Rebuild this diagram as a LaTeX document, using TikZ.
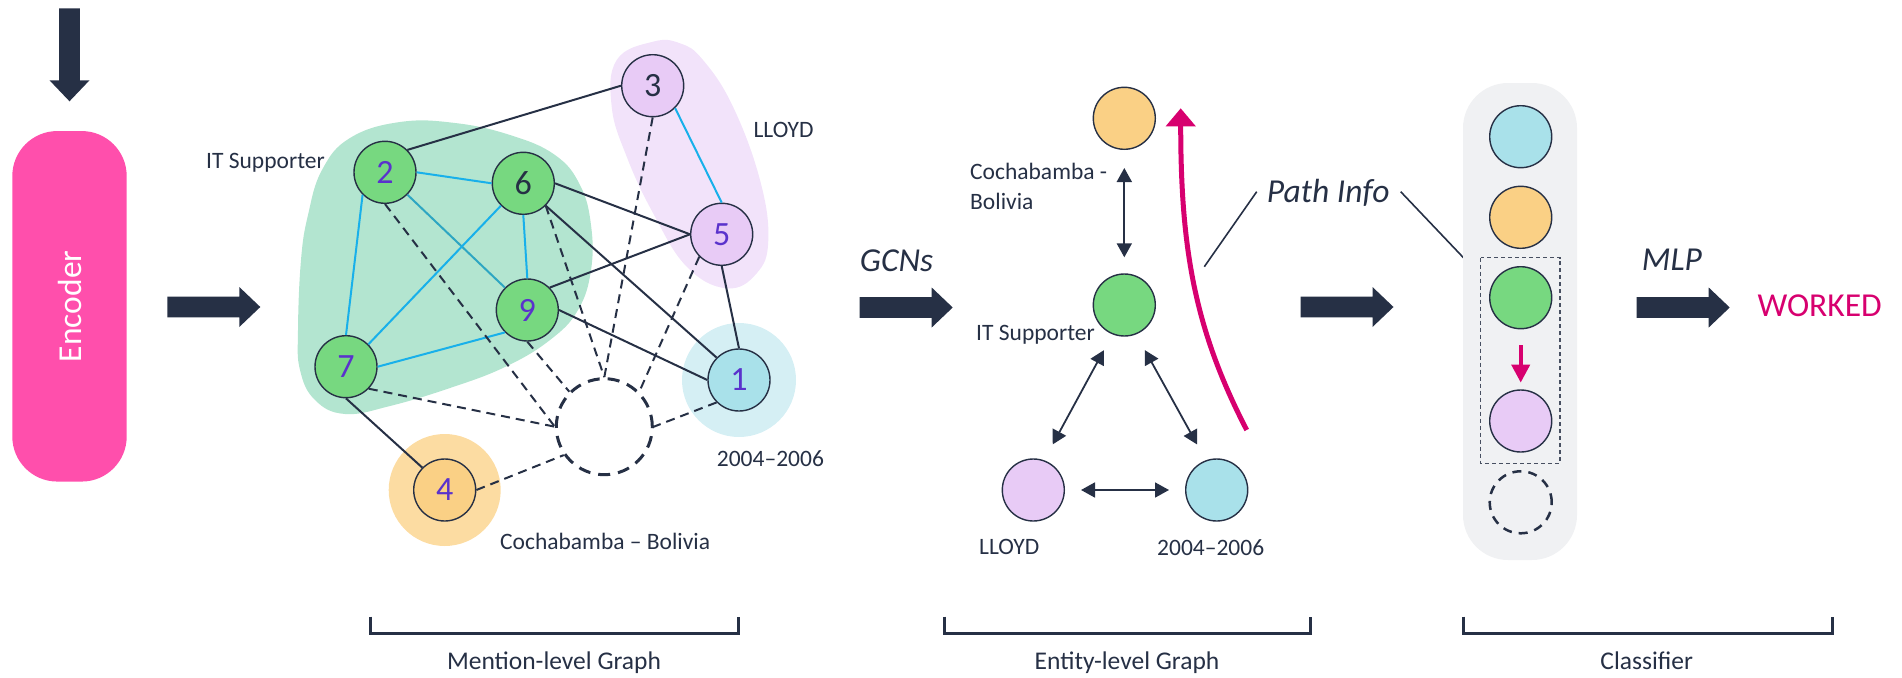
\documentclass[tikz,border=0pt]{standalone}
\usepackage{fontspec}
\setmainfont{Carlito}
\usetikzlibrary{arrows.meta,backgrounds}
\definecolor{navy}{HTML}{263045}
\definecolor{numpurple}{HTML}{5A32CC}
\definecolor{ngreen}{HTML}{77D880}
\definecolor{nlav}{HTML}{E8CBF6}
\definecolor{ncyan}{HTML}{A9E1EA}
\definecolor{norange}{HTML}{FAD085}
\definecolor{blobgreen}{HTML}{B3E5D0}
\definecolor{blobpurple}{HTML}{F2E3FA}
\definecolor{halocyan}{HTML}{D5EFF4}
\definecolor{haloorange}{HTML}{FCDCA2}
\definecolor{encpink}{HTML}{FF4FAC}
\definecolor{mag}{HTML}{D7006F}
\definecolor{clsbg}{HTML}{F0F1F3}
\definecolor{ecyan}{HTML}{18B0EA}
\definecolor{eteal}{HTML}{2EA6C2}
\tikzset{
  bigarr/.pic={\fill[navy] (0,-10.3) -- (72,-10.3) -- (72,-20) -- (93,0) -- (72,20) -- (72,10.3) -- (0,10.3) -- cycle;},
  mn/.style={circle, draw=navy, line width=1.4pt, minimum size=62pt, inner sep=0pt,
    font=\fontsize{34}{34}\selectfont, text=numpurple},
  dk/.style={text=navy},
  en/.style={circle, draw=navy, line width=1.4pt, minimum size=62pt, inner sep=0pt},
  dcirc/.style={circle, draw=navy, inner sep=0pt},
  edge/.style={draw=navy, line width=2pt},
  cedge/.style={draw=ecyan, line width=2pt},
  dedge/.style={draw=navy, line width=2pt, dash pattern=on 9pt off 6pt},
  lbl/.style={text=navy, inner sep=0pt, font=\fontsize{23.5}{30}\selectfont},
  capt/.style={text=navy, inner sep=0pt, font=\fontsize{25.5}{30}\selectfont},
  big/.style={inner sep=0pt, font=\fontsize{33.5}{36}\selectfont},
  dbl/.style={{Triangle[length=14pt,width=15pt]}-{Triangle[length=14pt,width=15pt]}, draw=navy, line width=1.8pt},
  brk/.style={draw=navy, line width=3pt},
  encoder/.style={rectangle, rounded corners=45pt, fill=encpink, rotate=90,
    minimum width=350.5pt, minimum height=114.4pt, inner sep=0pt, text=white,
    font=\fontsize{33.5}{36}\selectfont},
}
\begin{document}
\begin{tikzpicture}[x=1pt,y=-1pt]
\useasboundingbox (0,0) rectangle (1902,677);

% ---------- encoder ----------
\pic[rotate=-90] at (69.5,8.3) {bigarr};
\node[encoder] (enc) at (69.5,306.3) {Encoder};
\pic at (167.3,307) {bigarr};

% ---------- mention-level graph ----------
\node[mn, fill=ngreen] (m2) at (385,172.3) {2};
\node[mn, fill=ngreen, dk] (m6) at (523.3,183.3) {6};
\node[mn, fill=ngreen] (m9) at (527.3,310) {9};
\node[mn, fill=ngreen] (m7) at (346,366.7) {7};
\node[mn, fill=nlav, dk] (m3) at (652.7,85.7) {3};
\node[mn, fill=nlav] (m5) at (721.7,234.3) {5};
\node[mn, fill=ncyan] (m1) at (739,380) {1};
\node[mn, fill=norange] (m4) at (444.7,490) {4};
\node[dcirc, minimum size=96pt, line width=3pt, dash pattern=on 12pt off 8pt] (mD) at (604.3,426.7) {};

\begin{scope}[on background layer]
  \fill[blobgreen] plot[smooth cycle, tension=0.7] coordinates {
    (298,330) (301,260) (308,215) (322,170) (350,138) (400,122) (455,123)
    (510,135) (555,155) (580,185) (591,225) (591,270) (578,310) (550,340)
    (505,367) (450,388) (390,406) (345,414) (315,400) (300,370)};
  \fill[blobpurple] plot[smooth cycle, tension=0.7] coordinates {
    (653,41.7) (616.7,60) (611.7,106.7) (626.7,156.7) (653,213) (686.7,266.7)
    (726.7,288.3) (756.7,273.3) (768.3,240) (760,180) (733,106.7) (703,60)
    (680,43.3)};
  \fill[halocyan] (m1) circle[radius=57pt];
  \fill[haloorange] (m4) circle[radius=56pt];
\end{scope}

% solid links
\draw[edge] (m2.45) -- (m3.west);
\draw[edge] (m6.east) -- (m5.west);
\draw[edge] (m9.45) -- (m5.west);
\draw[edge] (m6.315) -- (m1.135);
\draw[edge] (m9.east) -- (m1.west);
\draw[edge] (m5.south) -- (m1.north);
\draw[edge] (m7.south) -- (m4.135);
% coreference links
\draw[cedge] (m2.east) -- (m6.west);
\draw[cedge] (m2.225) -- (m7.north);
\draw[draw=eteal, line width=2pt] (m2.315) -- (m9.135);
\draw[cedge] (m6.225) -- (m7.45);
\draw[cedge] (m6.south) -- (m9.north);
\draw[cedge] (m7.east) -- (m9.225);
\draw[cedge] (m3.315) -- (m5.north);
% links to the document node
\draw[dedge] (m2.south) -- (mD.west);
\draw[dedge] (m7.316) -- (mD.west);
\draw[dedge] (m6.315) -- (mD.north);
\draw[dedge] (m3.south) -- (mD.north);
\draw[dedge] (m9.south) -- (mD.135);
\draw[dedge] (m5.225) -- (mD.45);
\draw[dedge] (m1.225) -- (mD.east);
\draw[dedge] (m4.east) -- (mD.215);

\node[lbl, anchor=base east] (lit) at (325,168.3) {IT Supporter};
\node[lbl, anchor=base west] (lll) at (753.3,137.7) {LLOYD};
\node[lbl, anchor=base west] (ldate) at (716.7,466) {2004–2006};
\node[lbl, anchor=base west] (lcoch) at (500,549.3) {Cochabamba – Bolivia};

\draw[brk] (370,616.7) -- (370,633.3) -- (738,633.3) -- (738,616.7);
\node[capt, anchor=base] (cap1) at (554,669.3) {Mention-level Graph};

% ---------- GCNs ----------
\node[big, text=navy, anchor=base west] (gcn) at (859.7,271.7) {\itshape GCNs};
\pic at (859.7,307.5) {bigarr};

% ---------- entity-level graph ----------
\node[en, fill=norange] (eo) at (1124.3,118.3) {};
\node[en, fill=ngreen] (eg) at (1124.3,305) {};
\node[en, fill=nlav] (el) at (1033.3,490) {};
\node[en, fill=ncyan] (ec) at (1216.7,490) {};

\draw[dbl, shorten <=18pt, shorten >=16pt] (eo) -- (eg);
\draw[dbl, shorten <=18pt, shorten >=18pt] (eg.248) -- (el.70);
\draw[dbl, shorten <=18pt, shorten >=18pt] (eg.292) -- (ec.110);
\draw[dbl, shorten <=16pt, shorten >=16pt] (el) -- (ec);

\node[lbl, anchor=north west, align=left] (ecoch) at (970,163) {Cochabamba -\\Bolivia};
\node[lbl, anchor=base west] (eit) at (976,340) {IT Supporter};
\node[lbl, anchor=base west] (ell) at (979,554) {LLOYD};
\node[lbl, anchor=base west] (edate) at (1157,555.3) {2004–2006};

\coordinate (pa) at (1246.7,430);
\coordinate (pb) at (1180.7,108.3);
\draw[draw=mag, line width=5pt, -{Triangle[length=18pt,width=29pt]}]
  (pa) .. controls (1195,330) and (1180.7,250) .. (pb);

\node[big, text=navy, anchor=base west] (pinfo) at (1266.7,202.7) {\itshape Path Info};
\coordinate (pl1) at (1256.7,191.7);
\coordinate (pl2) at (1204.3,266.7);
\coordinate (pl3) at (1400.7,191.7);
\coordinate (pl4) at (1464,258.3);
\draw[navy, line width=1.6pt] (pl1) -- (pl2);
\draw[navy, line width=1.6pt] (pl3) -- (pl4);

\draw[brk] (944.3,616.7) -- (944.3,633.3) -- (1310,633.3) -- (1310,616.7);
\node[capt, anchor=base] (cap2) at (1127,669.3) {Entity-level Graph};

\pic at (1300.5,307) {bigarr};

% ---------- classifier ----------
\fill[clsbg, rounded corners=45pt] (1463,83) rectangle (1577,560);
\node[en, fill=ncyan] (cc) at (1520.7,136.7) {};
\node[en, fill=norange] (co) at (1520.7,217.3) {};
\node[en, fill=ngreen] (cg) at (1520.7,297.7) {};
\node[en, fill=nlav] (cl) at (1520.7,421) {};
\node[dcirc, minimum size=62pt, line width=2.5pt, dash pattern=on 9pt off 7pt] (cd) at (1520.7,502.3) {};
\draw[draw=navy!85, line width=1.3pt, dash pattern=on 4pt off 3pt] (1480.7,257.7) rectangle (1560,463.3);
\draw[draw=mag, line width=4pt, -{Triangle[length=18pt,width=18pt]}, shorten <=15.6pt, shorten >=6.7pt] (cg) -- (cl);

\draw[brk] (1463.3,616.7) -- (1463.3,633.3) -- (1832.3,633.3) -- (1832.3,616.7);
\node[capt, anchor=base] (cap3) at (1646.7,669.3) {Classifier};

\node[big, text=navy, anchor=base west] (mlp) at (1641.7,270.7) {\itshape MLP};
\pic at (1636.7,307.5) {bigarr};
\node[big, text=mag, anchor=base west] (res) at (1757.3,316) {WORKED};
\end{tikzpicture}
\end{document}
